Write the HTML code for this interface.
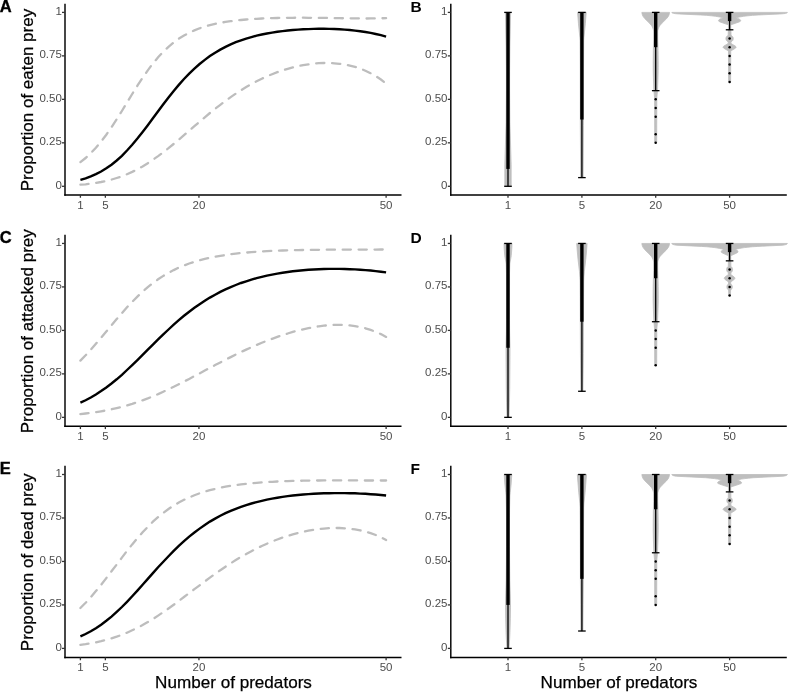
<!DOCTYPE html>
<html><head><meta charset="utf-8"><title>Figure</title>
<style>html,body{margin:0;padding:0;background:#fff;}body{width:788px;height:692px;overflow:hidden;}svg{display:block;}</style>
</head><body>
<svg width="788" height="692" viewBox="0 0 788 692" font-family="'Liberation Sans', sans-serif">
<rect width="788" height="692" fill="#fff"/>
<line x1="65.0" y1="3.70" x2="65.0" y2="195.65" stroke="#000" stroke-width="1.45"/>
<line x1="64.3" y1="194.95" x2="401.5" y2="194.95" stroke="#000" stroke-width="1.45"/>
<line x1="62.0" y1="186.30" x2="65.0" y2="186.30" stroke="#333" stroke-width="1.3"/>
<text x="61.8" y="188.70" text-anchor="end" font-size="11.5" fill="#4d4d4d">0</text>
<line x1="62.0" y1="142.83" x2="65.0" y2="142.83" stroke="#333" stroke-width="1.3"/>
<text x="61.8" y="145.23" text-anchor="end" font-size="11.5" fill="#4d4d4d">0.25</text>
<line x1="62.0" y1="99.35" x2="65.0" y2="99.35" stroke="#333" stroke-width="1.3"/>
<text x="61.8" y="101.75" text-anchor="end" font-size="11.5" fill="#4d4d4d">0.50</text>
<line x1="62.0" y1="55.88" x2="65.0" y2="55.88" stroke="#333" stroke-width="1.3"/>
<text x="61.8" y="58.27" text-anchor="end" font-size="11.5" fill="#4d4d4d">0.75</text>
<line x1="62.0" y1="12.40" x2="65.0" y2="12.40" stroke="#333" stroke-width="1.3"/>
<text x="61.8" y="14.80" text-anchor="end" font-size="11.5" fill="#4d4d4d">1</text>
<line x1="80.40" y1="194.95" x2="80.40" y2="197.75" stroke="#333" stroke-width="1.3"/>
<text x="80.40" y="208.80" text-anchor="middle" font-size="11.5" fill="#4d4d4d">1</text>
<line x1="105.36" y1="194.95" x2="105.36" y2="197.75" stroke="#333" stroke-width="1.3"/>
<text x="105.36" y="208.80" text-anchor="middle" font-size="11.5" fill="#4d4d4d">5</text>
<line x1="198.94" y1="194.95" x2="198.94" y2="197.75" stroke="#333" stroke-width="1.3"/>
<text x="198.94" y="208.80" text-anchor="middle" font-size="11.5" fill="#4d4d4d">20</text>
<line x1="386.11" y1="194.95" x2="386.11" y2="197.75" stroke="#333" stroke-width="1.3"/>
<text x="386.11" y="208.80" text-anchor="middle" font-size="11.5" fill="#4d4d4d">50</text>
<text transform="translate(33,100.03) rotate(-90)" text-anchor="middle" font-size="17" fill="#000" stroke="#000" stroke-width="0.25">Proportion of eaten prey</text>
<line x1="450.8" y1="3.70" x2="450.8" y2="195.65" stroke="#000" stroke-width="1.45"/>
<line x1="450.1" y1="194.95" x2="786.8" y2="194.95" stroke="#000" stroke-width="1.45"/>
<line x1="447.8" y1="186.30" x2="450.8" y2="186.30" stroke="#333" stroke-width="1.3"/>
<text x="447.5" y="188.80" text-anchor="end" font-size="11.5" fill="#4d4d4d">0</text>
<line x1="447.8" y1="142.83" x2="450.8" y2="142.83" stroke="#333" stroke-width="1.3"/>
<text x="447.5" y="145.33" text-anchor="end" font-size="11.5" fill="#4d4d4d">0.25</text>
<line x1="447.8" y1="99.35" x2="450.8" y2="99.35" stroke="#333" stroke-width="1.3"/>
<text x="447.5" y="101.85" text-anchor="end" font-size="11.5" fill="#4d4d4d">0.50</text>
<line x1="447.8" y1="55.88" x2="450.8" y2="55.88" stroke="#333" stroke-width="1.3"/>
<text x="447.5" y="58.38" text-anchor="end" font-size="11.5" fill="#4d4d4d">0.75</text>
<line x1="447.8" y1="12.40" x2="450.8" y2="12.40" stroke="#333" stroke-width="1.3"/>
<text x="447.5" y="14.90" text-anchor="end" font-size="11.5" fill="#4d4d4d">1</text>
<line x1="508.00" y1="194.95" x2="508.00" y2="197.75" stroke="#333" stroke-width="1.3"/>
<text x="508.00" y="208.80" text-anchor="middle" font-size="11.5" fill="#4d4d4d">1</text>
<line x1="581.90" y1="194.95" x2="581.90" y2="197.75" stroke="#333" stroke-width="1.3"/>
<text x="581.90" y="208.80" text-anchor="middle" font-size="11.5" fill="#4d4d4d">5</text>
<line x1="655.70" y1="194.95" x2="655.70" y2="197.75" stroke="#333" stroke-width="1.3"/>
<text x="655.70" y="208.80" text-anchor="middle" font-size="11.5" fill="#4d4d4d">20</text>
<line x1="729.60" y1="194.95" x2="729.60" y2="197.75" stroke="#333" stroke-width="1.3"/>
<text x="729.60" y="208.80" text-anchor="middle" font-size="11.5" fill="#4d4d4d">50</text>
<line x1="65.0" y1="234.75" x2="65.0" y2="427.00" stroke="#000" stroke-width="1.45"/>
<line x1="64.3" y1="426.30" x2="401.5" y2="426.30" stroke="#000" stroke-width="1.45"/>
<line x1="62.0" y1="417.35" x2="65.0" y2="417.35" stroke="#333" stroke-width="1.3"/>
<text x="61.8" y="419.75" text-anchor="end" font-size="11.5" fill="#4d4d4d">0</text>
<line x1="62.0" y1="373.88" x2="65.0" y2="373.88" stroke="#333" stroke-width="1.3"/>
<text x="61.8" y="376.27" text-anchor="end" font-size="11.5" fill="#4d4d4d">0.25</text>
<line x1="62.0" y1="330.40" x2="65.0" y2="330.40" stroke="#333" stroke-width="1.3"/>
<text x="61.8" y="332.80" text-anchor="end" font-size="11.5" fill="#4d4d4d">0.50</text>
<line x1="62.0" y1="286.93" x2="65.0" y2="286.93" stroke="#333" stroke-width="1.3"/>
<text x="61.8" y="289.32" text-anchor="end" font-size="11.5" fill="#4d4d4d">0.75</text>
<line x1="62.0" y1="243.45" x2="65.0" y2="243.45" stroke="#333" stroke-width="1.3"/>
<text x="61.8" y="245.85" text-anchor="end" font-size="11.5" fill="#4d4d4d">1</text>
<line x1="80.40" y1="426.30" x2="80.40" y2="429.10" stroke="#333" stroke-width="1.3"/>
<text x="80.40" y="439.85" text-anchor="middle" font-size="11.5" fill="#4d4d4d">1</text>
<line x1="105.36" y1="426.30" x2="105.36" y2="429.10" stroke="#333" stroke-width="1.3"/>
<text x="105.36" y="439.85" text-anchor="middle" font-size="11.5" fill="#4d4d4d">5</text>
<line x1="198.94" y1="426.30" x2="198.94" y2="429.10" stroke="#333" stroke-width="1.3"/>
<text x="198.94" y="439.85" text-anchor="middle" font-size="11.5" fill="#4d4d4d">20</text>
<line x1="386.11" y1="426.30" x2="386.11" y2="429.10" stroke="#333" stroke-width="1.3"/>
<text x="386.11" y="439.85" text-anchor="middle" font-size="11.5" fill="#4d4d4d">50</text>
<text transform="translate(33,331.23) rotate(-90)" text-anchor="middle" font-size="17" fill="#000" stroke="#000" stroke-width="0.25">Proportion of attacked prey</text>
<line x1="450.8" y1="234.75" x2="450.8" y2="427.00" stroke="#000" stroke-width="1.45"/>
<line x1="450.1" y1="426.30" x2="786.8" y2="426.30" stroke="#000" stroke-width="1.45"/>
<line x1="447.8" y1="417.35" x2="450.8" y2="417.35" stroke="#333" stroke-width="1.3"/>
<text x="447.5" y="419.85" text-anchor="end" font-size="11.5" fill="#4d4d4d">0</text>
<line x1="447.8" y1="373.88" x2="450.8" y2="373.88" stroke="#333" stroke-width="1.3"/>
<text x="447.5" y="376.38" text-anchor="end" font-size="11.5" fill="#4d4d4d">0.25</text>
<line x1="447.8" y1="330.40" x2="450.8" y2="330.40" stroke="#333" stroke-width="1.3"/>
<text x="447.5" y="332.90" text-anchor="end" font-size="11.5" fill="#4d4d4d">0.50</text>
<line x1="447.8" y1="286.93" x2="450.8" y2="286.93" stroke="#333" stroke-width="1.3"/>
<text x="447.5" y="289.43" text-anchor="end" font-size="11.5" fill="#4d4d4d">0.75</text>
<line x1="447.8" y1="243.45" x2="450.8" y2="243.45" stroke="#333" stroke-width="1.3"/>
<text x="447.5" y="245.95" text-anchor="end" font-size="11.5" fill="#4d4d4d">1</text>
<line x1="508.00" y1="426.30" x2="508.00" y2="429.10" stroke="#333" stroke-width="1.3"/>
<text x="508.00" y="439.85" text-anchor="middle" font-size="11.5" fill="#4d4d4d">1</text>
<line x1="581.90" y1="426.30" x2="581.90" y2="429.10" stroke="#333" stroke-width="1.3"/>
<text x="581.90" y="439.85" text-anchor="middle" font-size="11.5" fill="#4d4d4d">5</text>
<line x1="655.70" y1="426.30" x2="655.70" y2="429.10" stroke="#333" stroke-width="1.3"/>
<text x="655.70" y="439.85" text-anchor="middle" font-size="11.5" fill="#4d4d4d">20</text>
<line x1="729.60" y1="426.30" x2="729.60" y2="429.10" stroke="#333" stroke-width="1.3"/>
<text x="729.60" y="439.85" text-anchor="middle" font-size="11.5" fill="#4d4d4d">50</text>
<line x1="65.0" y1="465.81" x2="65.0" y2="658.15" stroke="#000" stroke-width="1.45"/>
<line x1="64.3" y1="657.45" x2="401.5" y2="657.45" stroke="#000" stroke-width="1.45"/>
<line x1="62.0" y1="648.40" x2="65.0" y2="648.40" stroke="#333" stroke-width="1.3"/>
<text x="61.8" y="650.80" text-anchor="end" font-size="11.5" fill="#4d4d4d">0</text>
<line x1="62.0" y1="604.93" x2="65.0" y2="604.93" stroke="#333" stroke-width="1.3"/>
<text x="61.8" y="607.33" text-anchor="end" font-size="11.5" fill="#4d4d4d">0.25</text>
<line x1="62.0" y1="561.45" x2="65.0" y2="561.45" stroke="#333" stroke-width="1.3"/>
<text x="61.8" y="563.85" text-anchor="end" font-size="11.5" fill="#4d4d4d">0.50</text>
<line x1="62.0" y1="517.98" x2="65.0" y2="517.98" stroke="#333" stroke-width="1.3"/>
<text x="61.8" y="520.38" text-anchor="end" font-size="11.5" fill="#4d4d4d">0.75</text>
<line x1="62.0" y1="474.50" x2="65.0" y2="474.50" stroke="#333" stroke-width="1.3"/>
<text x="61.8" y="476.90" text-anchor="end" font-size="11.5" fill="#4d4d4d">1</text>
<line x1="80.40" y1="657.45" x2="80.40" y2="660.25" stroke="#333" stroke-width="1.3"/>
<text x="80.40" y="670.90" text-anchor="middle" font-size="11.5" fill="#4d4d4d">1</text>
<line x1="105.36" y1="657.45" x2="105.36" y2="660.25" stroke="#333" stroke-width="1.3"/>
<text x="105.36" y="670.90" text-anchor="middle" font-size="11.5" fill="#4d4d4d">5</text>
<line x1="198.94" y1="657.45" x2="198.94" y2="660.25" stroke="#333" stroke-width="1.3"/>
<text x="198.94" y="670.90" text-anchor="middle" font-size="11.5" fill="#4d4d4d">20</text>
<line x1="386.11" y1="657.45" x2="386.11" y2="660.25" stroke="#333" stroke-width="1.3"/>
<text x="386.11" y="670.90" text-anchor="middle" font-size="11.5" fill="#4d4d4d">50</text>
<text transform="translate(33,562.33) rotate(-90)" text-anchor="middle" font-size="17" fill="#000" stroke="#000" stroke-width="0.25">Proportion of dead prey</text>
<line x1="450.8" y1="465.81" x2="450.8" y2="658.15" stroke="#000" stroke-width="1.45"/>
<line x1="450.1" y1="657.45" x2="786.8" y2="657.45" stroke="#000" stroke-width="1.45"/>
<line x1="447.8" y1="648.40" x2="450.8" y2="648.40" stroke="#333" stroke-width="1.3"/>
<text x="447.5" y="650.90" text-anchor="end" font-size="11.5" fill="#4d4d4d">0</text>
<line x1="447.8" y1="604.93" x2="450.8" y2="604.93" stroke="#333" stroke-width="1.3"/>
<text x="447.5" y="607.43" text-anchor="end" font-size="11.5" fill="#4d4d4d">0.25</text>
<line x1="447.8" y1="561.45" x2="450.8" y2="561.45" stroke="#333" stroke-width="1.3"/>
<text x="447.5" y="563.95" text-anchor="end" font-size="11.5" fill="#4d4d4d">0.50</text>
<line x1="447.8" y1="517.98" x2="450.8" y2="517.98" stroke="#333" stroke-width="1.3"/>
<text x="447.5" y="520.48" text-anchor="end" font-size="11.5" fill="#4d4d4d">0.75</text>
<line x1="447.8" y1="474.50" x2="450.8" y2="474.50" stroke="#333" stroke-width="1.3"/>
<text x="447.5" y="477.00" text-anchor="end" font-size="11.5" fill="#4d4d4d">1</text>
<line x1="508.00" y1="657.45" x2="508.00" y2="660.25" stroke="#333" stroke-width="1.3"/>
<text x="508.00" y="670.90" text-anchor="middle" font-size="11.5" fill="#4d4d4d">1</text>
<line x1="581.90" y1="657.45" x2="581.90" y2="660.25" stroke="#333" stroke-width="1.3"/>
<text x="581.90" y="670.90" text-anchor="middle" font-size="11.5" fill="#4d4d4d">5</text>
<line x1="655.70" y1="657.45" x2="655.70" y2="660.25" stroke="#333" stroke-width="1.3"/>
<text x="655.70" y="670.90" text-anchor="middle" font-size="11.5" fill="#4d4d4d">20</text>
<line x1="729.60" y1="657.45" x2="729.60" y2="660.25" stroke="#333" stroke-width="1.3"/>
<text x="729.60" y="670.90" text-anchor="middle" font-size="11.5" fill="#4d4d4d">50</text>
<path d="M80.4,162.1 L85.6,158.0 L90.8,153.2 L95.9,147.7 L101.1,141.5 L106.3,134.7 L111.5,127.2 L116.7,119.3 L121.9,111.0 L127.0,102.5 L132.2,94.0 L137.4,85.7 L142.6,77.8 L147.8,70.3 L152.9,63.5 L158.1,57.3 L163.3,51.7 L168.5,46.8 L173.7,42.5 L178.8,38.7 L184.0,35.5 L189.2,32.7 L194.4,30.4 L199.6,28.3 L204.8,26.6 L209.9,25.1 L215.1,23.9 L220.3,22.8 L225.5,21.9 L230.7,21.2 L235.8,20.5 L241.0,20.0 L246.2,19.5 L251.4,19.1 L256.6,18.8 L261.8,18.5 L266.9,18.3 L272.1,18.1 L277.3,18.0 L282.5,17.9 L287.7,17.8 L292.8,17.8 L298.0,17.7 L303.2,17.7 L308.4,17.8 L313.6,17.8 L318.8,17.9 L323.9,17.9 L329.1,18.0 L334.3,18.1 L339.5,18.2 L344.7,18.3 L349.8,18.3 L355.0,18.4 L360.2,18.4 L365.4,18.5 L370.6,18.4 L375.7,18.4 L380.9,18.3 L386.1,18.2" fill="none" stroke="#bdbdbd" stroke-width="2.3" stroke-dasharray="8.2 7.72" stroke-linecap="round"/>
<path d="M80.4,184.7 L85.6,184.3 L90.8,183.6 L95.9,182.9 L101.1,182.0 L106.3,180.9 L111.5,179.6 L116.7,178.0 L121.9,176.3 L127.0,174.2 L132.2,171.9 L137.4,169.3 L142.6,166.4 L147.8,163.2 L152.9,159.8 L158.1,156.1 L163.3,152.2 L168.5,148.2 L173.7,143.9 L178.8,139.6 L184.0,135.1 L189.2,130.7 L194.4,126.2 L199.6,121.7 L204.8,117.3 L209.9,113.0 L215.1,108.8 L220.3,104.8 L225.5,100.9 L230.7,97.1 L235.8,93.6 L241.0,90.2 L246.2,87.0 L251.4,84.1 L256.6,81.3 L261.8,78.7 L266.9,76.3 L272.1,74.2 L277.3,72.2 L282.5,70.4 L287.7,68.8 L292.8,67.4 L298.0,66.2 L303.2,65.1 L308.4,64.3 L313.6,63.7 L318.8,63.2 L323.9,63.0 L329.1,63.0 L334.3,63.3 L339.5,63.8 L344.7,64.5 L349.8,65.6 L355.0,66.9 L360.2,68.6 L365.4,70.7 L370.6,73.2 L375.7,76.1 L380.9,79.5 L386.1,83.5" fill="none" stroke="#bdbdbd" stroke-width="2.3" stroke-dasharray="8.2 7.72" stroke-linecap="round"/>
<path d="M80.4,179.8 L85.6,178.3 L90.8,176.4 L95.9,174.1 L101.1,171.5 L106.3,168.3 L111.5,164.7 L116.7,160.5 L121.9,155.8 L127.0,150.5 L132.2,144.8 L137.4,138.6 L142.6,132.0 L147.8,125.2 L152.9,118.3 L158.1,111.3 L163.3,104.3 L168.5,97.6 L173.7,91.0 L178.8,84.9 L184.0,79.0 L189.2,73.6 L194.4,68.6 L199.6,64.0 L204.8,59.9 L209.9,56.1 L215.1,52.7 L220.3,49.6 L225.5,46.9 L230.7,44.4 L235.8,42.2 L241.0,40.3 L246.2,38.6 L251.4,37.1 L256.6,35.7 L261.8,34.5 L266.9,33.5 L272.1,32.6 L277.3,31.8 L282.5,31.1 L287.7,30.5 L292.8,30.0 L298.0,29.6 L303.2,29.3 L308.4,29.1 L313.6,28.9 L318.8,28.8 L323.9,28.8 L329.1,28.9 L334.3,29.0 L339.5,29.3 L344.7,29.6 L349.8,30.0 L355.0,30.6 L360.2,31.2 L365.4,32.0 L370.6,32.9 L375.7,34.0 L380.9,35.2 L386.1,36.7" fill="none" stroke="#000" stroke-width="2.4" stroke-linecap="butt"/>
<path d="M80.4,360.6 L85.6,355.3 L90.8,349.7 L95.9,343.8 L101.1,337.7 L106.3,331.5 L111.5,325.3 L116.7,319.1 L121.9,313.1 L127.0,307.3 L132.2,301.8 L137.4,296.6 L142.6,291.7 L147.8,287.2 L152.9,283.1 L158.1,279.3 L163.3,275.9 L168.5,272.8 L173.7,270.1 L178.8,267.6 L184.0,265.5 L189.2,263.5 L194.4,261.8 L199.6,260.3 L204.8,258.9 L209.9,257.7 L215.1,256.7 L220.3,255.8 L225.5,255.0 L230.7,254.2 L235.8,253.6 L241.0,253.0 L246.2,252.6 L251.4,252.1 L256.6,251.7 L261.8,251.4 L266.9,251.1 L272.1,250.9 L277.3,250.7 L282.5,250.5 L287.7,250.3 L292.8,250.2 L298.0,250.1 L303.2,250.0 L308.4,249.9 L313.6,249.8 L318.8,249.8 L323.9,249.7 L329.1,249.7 L334.3,249.7 L339.5,249.7 L344.7,249.7 L349.8,249.6 L355.0,249.6 L360.2,249.6 L365.4,249.6 L370.6,249.6 L375.7,249.6 L380.9,249.5 L386.1,249.5" fill="none" stroke="#bdbdbd" stroke-width="2.3" stroke-dasharray="8.2 7.72" stroke-linecap="round"/>
<path d="M80.4,414.1 L85.6,413.5 L90.8,412.9 L95.9,412.1 L101.1,411.3 L106.3,410.4 L111.5,409.3 L116.7,408.1 L121.9,406.8 L127.0,405.4 L132.2,403.9 L137.4,402.2 L142.6,400.3 L147.8,398.4 L152.9,396.3 L158.1,394.1 L163.3,391.7 L168.5,389.3 L173.7,386.8 L178.8,384.2 L184.0,381.6 L189.2,378.9 L194.4,376.1 L199.6,373.4 L204.8,370.6 L209.9,367.8 L215.1,365.1 L220.3,362.4 L225.5,359.7 L230.7,357.1 L235.8,354.5 L241.0,352.0 L246.2,349.6 L251.4,347.3 L256.6,345.0 L261.8,342.8 L266.9,340.7 L272.1,338.8 L277.3,336.9 L282.5,335.1 L287.7,333.5 L292.8,331.9 L298.0,330.5 L303.2,329.3 L308.4,328.1 L313.6,327.2 L318.8,326.3 L323.9,325.7 L329.1,325.2 L334.3,324.9 L339.5,324.9 L344.7,325.0 L349.8,325.4 L355.0,326.1 L360.2,327.0 L365.4,328.3 L370.6,329.9 L375.7,331.8 L380.9,334.1 L386.1,336.9" fill="none" stroke="#bdbdbd" stroke-width="2.3" stroke-dasharray="8.2 7.72" stroke-linecap="round"/>
<path d="M80.4,402.7 L85.6,400.3 L90.8,397.5 L95.9,394.5 L101.1,391.1 L106.3,387.5 L111.5,383.5 L116.7,379.3 L121.9,374.8 L127.0,370.0 L132.2,365.1 L137.4,360.1 L142.6,354.9 L147.8,349.7 L152.9,344.6 L158.1,339.4 L163.3,334.4 L168.5,329.5 L173.7,324.7 L178.8,320.2 L184.0,315.8 L189.2,311.7 L194.4,307.8 L199.6,304.2 L204.8,300.8 L209.9,297.6 L215.1,294.7 L220.3,291.9 L225.5,289.4 L230.7,287.1 L235.8,285.0 L241.0,283.0 L246.2,281.3 L251.4,279.6 L256.6,278.2 L261.8,276.9 L266.9,275.7 L272.1,274.6 L277.3,273.6 L282.5,272.7 L287.7,272.0 L292.8,271.3 L298.0,270.7 L303.2,270.2 L308.4,269.8 L313.6,269.5 L318.8,269.2 L323.9,269.0 L329.1,268.9 L334.3,268.9 L339.5,268.9 L344.7,269.0 L349.8,269.2 L355.0,269.4 L360.2,269.7 L365.4,270.1 L370.6,270.5 L375.7,271.1 L380.9,271.7 L386.1,272.4" fill="none" stroke="#000" stroke-width="2.4" stroke-linecap="butt"/>
<path d="M80.4,608.0 L85.6,602.8 L90.8,597.2 L95.9,591.1 L101.1,584.8 L106.3,578.1 L111.5,571.3 L116.7,564.5 L121.9,557.6 L127.0,550.9 L132.2,544.4 L137.4,538.2 L142.6,532.3 L147.8,526.8 L152.9,521.7 L158.1,517.1 L163.3,512.9 L168.5,509.0 L173.7,505.6 L178.8,502.5 L184.0,499.8 L189.2,497.4 L194.4,495.2 L199.6,493.3 L204.8,491.6 L209.9,490.2 L215.1,488.9 L220.3,487.7 L225.5,486.7 L230.7,485.8 L235.8,485.1 L241.0,484.4 L246.2,483.8 L251.4,483.3 L256.6,482.8 L261.8,482.4 L266.9,482.1 L272.1,481.8 L277.3,481.5 L282.5,481.3 L287.7,481.1 L292.8,480.9 L298.0,480.8 L303.2,480.7 L308.4,480.6 L313.6,480.5 L318.8,480.5 L323.9,480.4 L329.1,480.4 L334.3,480.4 L339.5,480.4 L344.7,480.4 L349.8,480.4 L355.0,480.4 L360.2,480.4 L365.4,480.5 L370.6,480.5 L375.7,480.5 L380.9,480.5 L386.1,480.5" fill="none" stroke="#bdbdbd" stroke-width="2.3" stroke-dasharray="8.2 7.72" stroke-linecap="round"/>
<path d="M80.4,644.9 L85.6,644.2 L90.8,643.3 L95.9,642.3 L101.1,641.2 L106.3,639.9 L111.5,638.4 L116.7,636.7 L121.9,634.8 L127.0,632.7 L132.2,630.3 L137.4,627.8 L142.6,625.1 L147.8,622.1 L152.9,619.0 L158.1,615.6 L163.3,612.1 L168.5,608.5 L173.7,604.8 L178.8,600.9 L184.0,597.0 L189.2,593.1 L194.4,589.2 L199.6,585.3 L204.8,581.4 L209.9,577.6 L215.1,573.9 L220.3,570.2 L225.5,566.7 L230.7,563.3 L235.8,560.0 L241.0,556.9 L246.2,554.0 L251.4,551.2 L256.6,548.5 L261.8,546.0 L266.9,543.7 L272.1,541.5 L277.3,539.5 L282.5,537.6 L287.7,535.9 L292.8,534.4 L298.0,533.0 L303.2,531.8 L308.4,530.7 L313.6,529.8 L318.8,529.1 L323.9,528.6 L329.1,528.2 L334.3,528.0 L339.5,528.0 L344.7,528.3 L349.8,528.7 L355.0,529.4 L360.2,530.4 L365.4,531.6 L370.6,533.2 L375.7,535.0 L380.9,537.3 L386.1,540.0" fill="none" stroke="#bdbdbd" stroke-width="2.3" stroke-dasharray="8.2 7.72" stroke-linecap="round"/>
<path d="M80.4,636.4 L85.6,634.0 L90.8,631.3 L95.9,628.2 L101.1,624.7 L106.3,620.8 L111.5,616.6 L116.7,611.9 L121.9,607.0 L127.0,601.8 L132.2,596.3 L137.4,590.6 L142.6,584.8 L147.8,578.9 L152.9,573.1 L158.1,567.3 L163.3,561.7 L168.5,556.2 L173.7,550.9 L178.8,545.9 L184.0,541.1 L189.2,536.6 L194.4,532.5 L199.6,528.6 L204.8,525.0 L209.9,521.6 L215.1,518.6 L220.3,515.8 L225.5,513.2 L230.7,510.9 L235.8,508.8 L241.0,506.8 L246.2,505.1 L251.4,503.5 L256.6,502.1 L261.8,500.8 L266.9,499.6 L272.1,498.6 L277.3,497.7 L282.5,496.9 L287.7,496.1 L292.8,495.5 L298.0,495.0 L303.2,494.5 L308.4,494.1 L313.6,493.8 L318.8,493.5 L323.9,493.3 L329.1,493.2 L334.3,493.1 L339.5,493.1 L344.7,493.1 L349.8,493.2 L355.0,493.3 L360.2,493.6 L365.4,493.8 L370.6,494.2 L375.7,494.5 L380.9,495.0 L386.1,495.5" fill="none" stroke="#000" stroke-width="2.4" stroke-linecap="butt"/>
<path d="M504.80,186.30 L504.84,164.78 L506.11,122.32 L506.39,90.34 L506.36,71.72 L506.09,46.40 L505.40,12.40 L510.60,12.40 L509.91,46.40 L509.64,71.72 L509.61,90.34 L509.89,122.32 L511.16,164.78 L511.20,186.30Z" fill="#bebebe" stroke="#bebebe" stroke-width="0.8" stroke-linejoin="round"/>
<path d="M580.70,177.61 L580.32,125.67 L580.28,68.21 L580.10,40.75 L579.90,37.70 L578.45,23.45 L577.60,12.40 L586.20,12.40 L585.35,23.45 L583.90,37.70 L583.70,40.75 L583.52,68.21 L583.48,125.67 L583.10,177.61Z" fill="#bebebe" stroke="#bebebe" stroke-width="0.8" stroke-linejoin="round"/>
<path d="M654.70,142.83 L654.60,99.20 L654.49,97.02 L653.89,90.48 L653.41,77.83 L653.21,67.80 L653.22,60.22 L653.34,50.79 L653.42,46.22 L653.70,39.18 L653.68,31.01 L653.46,29.96 L652.84,28.05 L652.27,26.79 L651.62,25.70 L649.33,23.09 L644.99,18.83 L643.17,16.57 L642.80,15.89 L642.18,14.23 L641.94,13.27 L641.85,12.40 L669.55,12.40 L669.46,13.27 L669.22,14.23 L668.60,15.89 L668.23,16.57 L666.41,18.83 L662.07,23.09 L659.78,25.70 L659.13,26.79 L658.56,28.05 L657.94,29.96 L657.72,31.01 L657.70,39.18 L657.98,46.22 L658.06,50.79 L658.18,60.22 L658.19,67.80 L657.99,77.83 L657.51,90.48 L656.91,97.02 L656.80,99.20 L656.70,142.83Z" fill="#bebebe" stroke="#bebebe" stroke-width="0.8" stroke-linejoin="round"/>
<path d="M728.60,81.96 L728.46,51.25 L727.30,50.31 L723.81,48.23 L723.28,47.70 L723.10,47.18 L723.28,46.66 L723.92,46.05 L727.16,44.14 L728.30,43.27 L728.26,41.88 L727.22,41.27 L726.53,40.55 L726.06,39.62 L725.90,38.57 L726.08,37.53 L726.53,36.66 L727.20,35.96 L728.20,35.35 L728.21,32.87 L728.40,29.85 L728.50,24.83 L725.32,23.80 L720.09,21.94 L718.80,21.27 L718.50,20.92 L718.57,20.49 L718.77,19.96 L719.10,19.62 L719.78,19.15 L721.38,18.40 L723.50,17.70 L722.52,17.62 L719.82,17.01 L715.55,16.31 L711.32,15.79 L706.73,15.36 L700.41,14.96 L679.28,13.97 L675.60,13.70 L673.44,13.36 L672.43,13.10 L672.05,12.87 L671.80,12.40 L787.40,12.40 L787.15,12.87 L786.77,13.10 L785.76,13.36 L783.60,13.70 L779.92,13.97 L758.79,14.96 L752.47,15.36 L747.88,15.79 L743.65,16.31 L739.38,17.01 L736.68,17.62 L735.70,17.70 L737.82,18.40 L739.42,19.15 L740.10,19.62 L740.43,19.96 L740.63,20.49 L740.70,20.92 L740.40,21.27 L739.11,21.94 L733.88,23.80 L730.70,24.83 L730.80,29.85 L730.99,32.87 L731.00,35.35 L732.00,35.96 L732.67,36.66 L733.12,37.53 L733.30,38.57 L733.14,39.62 L732.67,40.55 L731.98,41.27 L730.94,41.88 L730.90,43.27 L732.04,44.14 L735.28,46.05 L735.92,46.66 L736.10,47.18 L735.92,47.70 L735.39,48.23 L731.90,50.31 L730.74,51.25 L730.60,81.96Z" fill="#bebebe" stroke="#bebebe" stroke-width="0.8" stroke-linejoin="round"/>
<line x1="508.0" y1="186.30" x2="508.0" y2="12.40" stroke="#000" stroke-width="1.3"/>
<line x1="504.20" y1="186.30" x2="511.80" y2="186.30" stroke="#000" stroke-width="1.3"/>
<line x1="504.20" y1="12.40" x2="511.80" y2="12.40" stroke="#000" stroke-width="1.3"/>
<rect x="506.30" y="12.40" width="3.4" height="156.51" fill="#000"/>
<line x1="581.9" y1="177.61" x2="581.9" y2="12.40" stroke="#000" stroke-width="1.3"/>
<line x1="578.10" y1="177.61" x2="585.70" y2="177.61" stroke="#000" stroke-width="1.3"/>
<line x1="578.10" y1="12.40" x2="585.70" y2="12.40" stroke="#000" stroke-width="1.3"/>
<rect x="580.20" y="12.40" width="3.4" height="107.12" fill="#000"/>
<line x1="655.7" y1="90.66" x2="655.7" y2="12.40" stroke="#000" stroke-width="1.3"/>
<line x1="651.90" y1="90.66" x2="659.50" y2="90.66" stroke="#000" stroke-width="1.3"/>
<line x1="651.90" y1="12.40" x2="659.50" y2="12.40" stroke="#000" stroke-width="1.3"/>
<rect x="654.00" y="12.40" width="3.4" height="34.78" fill="#000"/>
<circle cx="655.7" cy="99.35" r="1.25" fill="#000"/>
<circle cx="655.7" cy="108.05" r="1.25" fill="#000"/>
<circle cx="655.7" cy="116.74" r="1.25" fill="#000"/>
<circle cx="655.7" cy="134.13" r="1.25" fill="#000"/>
<circle cx="655.7" cy="142.83" r="1.25" fill="#000"/>
<line x1="729.6" y1="29.79" x2="729.6" y2="12.40" stroke="#000" stroke-width="1.3"/>
<line x1="725.80" y1="29.79" x2="733.40" y2="29.79" stroke="#000" stroke-width="1.3"/>
<line x1="725.80" y1="12.40" x2="733.40" y2="12.40" stroke="#000" stroke-width="1.3"/>
<rect x="727.90" y="12.40" width="3.4" height="8.70" fill="#000"/>
<circle cx="729.6" cy="38.49" r="1.25" fill="#000"/>
<circle cx="729.6" cy="47.18" r="1.25" fill="#000"/>
<circle cx="729.6" cy="55.88" r="1.25" fill="#000"/>
<circle cx="729.6" cy="64.57" r="1.25" fill="#000"/>
<circle cx="729.6" cy="73.27" r="1.25" fill="#000"/>
<circle cx="729.6" cy="81.96" r="1.25" fill="#000"/>
<path d="M507.00,417.35 L506.56,402.23 L506.29,389.43 L506.02,356.86 L506.01,345.81 L506.38,331.85 L506.48,319.64 L506.46,273.36 L506.16,264.06 L505.89,261.97 L505.02,257.45 L504.73,255.45 L504.19,248.58 L504.00,243.45 L512.00,243.45 L511.81,248.58 L511.27,255.45 L510.98,257.45 L510.11,261.97 L509.84,264.06 L509.54,273.36 L509.52,319.64 L509.62,331.85 L509.99,345.81 L509.98,356.86 L509.71,389.43 L509.44,402.23 L509.00,417.35Z" fill="#bebebe" stroke="#bebebe" stroke-width="0.8" stroke-linejoin="round"/>
<path d="M580.90,391.27 L580.44,353.69 L580.21,296.35 L580.08,281.01 L579.90,277.27 L579.49,271.71 L578.02,259.27 L577.26,250.93 L576.70,243.45 L587.10,243.45 L586.54,250.93 L585.78,259.27 L584.31,271.71 L583.90,277.27 L583.72,281.01 L583.59,296.35 L583.36,353.69 L582.90,391.27Z" fill="#bebebe" stroke="#bebebe" stroke-width="0.8" stroke-linejoin="round"/>
<path d="M654.70,365.18 L654.60,330.17 L654.46,327.72 L653.97,322.84 L653.82,319.99 L653.33,308.18 L653.12,298.82 L653.20,286.61 L653.41,277.71 L653.69,270.49 L653.68,262.06 L653.46,261.01 L652.84,259.10 L652.25,257.80 L651.62,256.75 L649.33,254.14 L644.99,249.88 L643.17,247.62 L642.80,246.93 L642.18,245.28 L641.94,244.32 L641.85,243.45 L669.55,243.45 L669.46,244.32 L669.22,245.28 L668.60,246.93 L668.23,247.62 L666.41,249.88 L662.07,254.14 L659.78,256.75 L659.15,257.80 L658.56,259.10 L657.94,261.01 L657.72,262.06 L657.71,270.49 L657.99,277.71 L658.20,286.61 L658.28,298.82 L658.07,308.18 L657.58,319.99 L657.43,322.84 L656.94,327.72 L656.80,330.17 L656.70,365.18Z" fill="#bebebe" stroke="#bebebe" stroke-width="0.8" stroke-linejoin="round"/>
<path d="M728.80,295.62 L728.58,290.04 L727.86,289.45 L727.35,288.75 L727.03,287.94 L726.90,287.01 L727.00,286.06 L727.30,285.19 L727.81,284.45 L728.46,283.93 L728.44,282.18 L727.57,281.36 L724.96,279.39 L724.44,278.75 L724.30,278.23 L724.44,277.71 L724.92,277.10 L727.46,275.19 L728.33,274.40 L728.29,272.67 L727.62,272.14 L727.05,271.37 L726.72,270.49 L726.60,269.54 L726.72,268.58 L727.05,267.70 L727.62,266.93 L728.29,266.40 L728.50,255.80 L722.45,253.01 L721.91,252.70 L721.26,252.15 L721.20,251.88 L721.29,251.36 L721.40,251.01 L721.66,250.67 L722.57,249.91 L724.11,249.10 L722.58,249.03 L719.82,248.41 L714.92,247.62 L711.32,247.19 L706.73,246.75 L701.37,246.41 L676.34,245.19 L674.33,244.85 L672.83,244.41 L672.19,244.06 L671.89,243.71 L671.80,243.45 L787.40,243.45 L787.31,243.71 L787.01,244.06 L786.37,244.41 L784.87,244.85 L782.86,245.19 L757.83,246.41 L752.47,246.75 L747.88,247.19 L744.28,247.62 L739.38,248.41 L736.62,249.03 L735.09,249.10 L736.63,249.91 L737.54,250.67 L737.80,251.01 L737.91,251.36 L738.00,251.88 L737.94,252.15 L737.29,252.70 L736.75,253.01 L730.70,255.80 L730.91,266.40 L731.58,266.93 L732.15,267.70 L732.48,268.58 L732.60,269.54 L732.48,270.49 L732.15,271.37 L731.58,272.14 L730.91,272.67 L730.87,274.40 L731.74,275.19 L734.28,277.10 L734.76,277.71 L734.90,278.23 L734.76,278.75 L734.24,279.39 L731.63,281.36 L730.76,282.18 L730.74,283.93 L731.39,284.45 L731.90,285.19 L732.20,286.06 L732.30,287.01 L732.17,287.94 L731.85,288.75 L731.34,289.45 L730.62,290.04 L730.40,295.62Z" fill="#bebebe" stroke="#bebebe" stroke-width="0.8" stroke-linejoin="round"/>
<line x1="508.0" y1="417.35" x2="508.0" y2="243.45" stroke="#000" stroke-width="1.3"/>
<line x1="504.20" y1="417.35" x2="511.80" y2="417.35" stroke="#000" stroke-width="1.3"/>
<line x1="504.20" y1="243.45" x2="511.80" y2="243.45" stroke="#000" stroke-width="1.3"/>
<rect x="506.30" y="243.45" width="3.4" height="104.34" fill="#000"/>
<line x1="581.9" y1="391.27" x2="581.9" y2="243.45" stroke="#000" stroke-width="1.3"/>
<line x1="578.10" y1="391.27" x2="585.70" y2="391.27" stroke="#000" stroke-width="1.3"/>
<line x1="578.10" y1="243.45" x2="585.70" y2="243.45" stroke="#000" stroke-width="1.3"/>
<rect x="580.20" y="243.45" width="3.4" height="78.26" fill="#000"/>
<line x1="655.7" y1="321.71" x2="655.7" y2="243.45" stroke="#000" stroke-width="1.3"/>
<line x1="651.90" y1="321.71" x2="659.50" y2="321.71" stroke="#000" stroke-width="1.3"/>
<line x1="651.90" y1="243.45" x2="659.50" y2="243.45" stroke="#000" stroke-width="1.3"/>
<rect x="654.00" y="243.45" width="3.4" height="34.78" fill="#000"/>
<circle cx="655.7" cy="330.40" r="1.25" fill="#000"/>
<circle cx="655.7" cy="339.10" r="1.25" fill="#000"/>
<circle cx="655.7" cy="347.79" r="1.25" fill="#000"/>
<circle cx="655.7" cy="365.18" r="1.25" fill="#000"/>
<line x1="729.6" y1="260.84" x2="729.6" y2="243.45" stroke="#000" stroke-width="1.3"/>
<line x1="725.80" y1="260.84" x2="733.40" y2="260.84" stroke="#000" stroke-width="1.3"/>
<line x1="725.80" y1="243.45" x2="733.40" y2="243.45" stroke="#000" stroke-width="1.3"/>
<rect x="727.90" y="243.45" width="3.4" height="8.70" fill="#000"/>
<circle cx="729.6" cy="269.54" r="1.25" fill="#000"/>
<circle cx="729.6" cy="278.23" r="1.25" fill="#000"/>
<circle cx="729.6" cy="286.93" r="1.25" fill="#000"/>
<circle cx="729.6" cy="295.62" r="1.25" fill="#000"/>
<path d="M507.00,648.40 L506.40,639.68 L506.06,632.70 L505.66,618.16 L505.50,607.11 L505.58,598.96 L506.18,580.35 L506.42,560.58 L506.50,546.62 L506.50,517.98 L506.42,507.98 L506.09,495.89 L505.81,492.67 L504.87,484.06 L504.20,474.50 L511.80,474.50 L511.13,484.06 L510.19,492.67 L509.91,495.89 L509.58,507.98 L509.50,517.98 L509.50,546.62 L509.58,560.58 L509.82,580.35 L510.42,598.96 L510.50,607.11 L510.34,618.16 L509.94,632.70 L509.60,639.68 L509.00,648.40Z" fill="#bebebe" stroke="#bebebe" stroke-width="0.8" stroke-linejoin="round"/>
<path d="M580.90,631.01 L580.69,604.31 L580.41,580.24 L580.24,526.41 L580.09,507.45 L579.84,503.02 L578.75,492.50 L577.30,474.50 L586.50,474.50 L585.05,492.50 L583.96,503.02 L583.71,507.45 L583.56,526.41 L583.39,580.24 L583.11,604.31 L582.90,631.01Z" fill="#bebebe" stroke="#bebebe" stroke-width="0.8" stroke-linejoin="round"/>
<path d="M654.70,604.93 L654.60,561.30 L654.49,559.12 L653.89,552.58 L653.41,539.93 L653.21,529.90 L653.22,522.32 L653.34,512.89 L653.42,508.32 L653.70,501.28 L653.68,493.11 L653.46,492.06 L652.84,490.15 L652.27,488.89 L651.62,487.80 L649.33,485.19 L644.99,480.93 L643.17,478.67 L642.80,477.99 L642.18,476.33 L641.94,475.37 L641.85,474.50 L669.55,474.50 L669.46,475.37 L669.22,476.33 L668.60,477.99 L668.23,478.67 L666.41,480.93 L662.07,485.19 L659.78,487.80 L659.13,488.89 L658.56,490.15 L657.94,492.06 L657.72,493.11 L657.70,501.28 L657.98,508.32 L658.06,512.89 L658.18,522.32 L658.19,529.90 L657.99,539.93 L657.51,552.58 L656.91,559.12 L656.80,561.30 L656.70,604.93Z" fill="#bebebe" stroke="#bebebe" stroke-width="0.8" stroke-linejoin="round"/>
<path d="M728.60,544.06 L728.45,513.35 L727.30,512.41 L723.81,510.33 L723.28,509.80 L723.10,509.28 L723.28,508.76 L723.81,508.23 L727.30,506.15 L728.01,505.63 L728.34,505.28 L728.32,503.54 L727.71,503.02 L727.22,502.32 L726.91,501.49 L726.80,500.56 L726.92,499.63 L727.22,498.85 L727.64,498.23 L728.30,497.63 L728.50,486.93 L725.22,485.98 L719.39,484.06 L718.56,483.72 L717.69,483.20 L717.61,482.88 L717.80,482.24 L717.99,481.94 L718.37,481.63 L719.60,480.93 L722.21,479.98 L721.12,479.72 L717.82,479.11 L714.27,478.59 L710.49,478.15 L705.66,477.72 L676.34,476.24 L674.33,475.90 L672.83,475.46 L672.19,475.11 L671.89,474.76 L671.80,474.50 L787.40,474.50 L787.31,474.76 L787.01,475.11 L786.37,475.46 L784.87,475.90 L782.86,476.24 L753.54,477.72 L748.71,478.15 L744.93,478.59 L741.38,479.11 L738.08,479.72 L736.99,479.98 L739.60,480.93 L740.83,481.63 L741.21,481.94 L741.40,482.24 L741.59,482.88 L741.51,483.20 L740.64,483.72 L739.81,484.06 L733.98,485.98 L730.70,486.93 L730.90,497.63 L731.56,498.23 L731.98,498.85 L732.28,499.63 L732.40,500.56 L732.29,501.49 L731.98,502.32 L731.49,503.02 L730.88,503.54 L730.86,505.28 L731.19,505.63 L731.90,506.15 L735.39,508.23 L735.92,508.76 L736.10,509.28 L735.92,509.80 L735.39,510.33 L731.90,512.41 L730.75,513.35 L730.60,544.06Z" fill="#bebebe" stroke="#bebebe" stroke-width="0.8" stroke-linejoin="round"/>
<line x1="508.0" y1="648.40" x2="508.0" y2="474.50" stroke="#000" stroke-width="1.3"/>
<line x1="504.20" y1="648.40" x2="511.80" y2="648.40" stroke="#000" stroke-width="1.3"/>
<line x1="504.20" y1="474.50" x2="511.80" y2="474.50" stroke="#000" stroke-width="1.3"/>
<rect x="506.30" y="474.50" width="3.4" height="130.42" fill="#000"/>
<line x1="581.9" y1="631.01" x2="581.9" y2="474.50" stroke="#000" stroke-width="1.3"/>
<line x1="578.10" y1="631.01" x2="585.70" y2="631.01" stroke="#000" stroke-width="1.3"/>
<line x1="578.10" y1="474.50" x2="585.70" y2="474.50" stroke="#000" stroke-width="1.3"/>
<rect x="580.20" y="474.50" width="3.4" height="104.34" fill="#000"/>
<line x1="655.7" y1="552.76" x2="655.7" y2="474.50" stroke="#000" stroke-width="1.3"/>
<line x1="651.90" y1="552.76" x2="659.50" y2="552.76" stroke="#000" stroke-width="1.3"/>
<line x1="651.90" y1="474.50" x2="659.50" y2="474.50" stroke="#000" stroke-width="1.3"/>
<rect x="654.00" y="474.50" width="3.4" height="34.78" fill="#000"/>
<circle cx="655.7" cy="561.45" r="1.25" fill="#000"/>
<circle cx="655.7" cy="570.15" r="1.25" fill="#000"/>
<circle cx="655.7" cy="578.84" r="1.25" fill="#000"/>
<circle cx="655.7" cy="596.23" r="1.25" fill="#000"/>
<circle cx="655.7" cy="604.93" r="1.25" fill="#000"/>
<line x1="729.6" y1="491.89" x2="729.6" y2="474.50" stroke="#000" stroke-width="1.3"/>
<line x1="725.80" y1="491.89" x2="733.40" y2="491.89" stroke="#000" stroke-width="1.3"/>
<line x1="725.80" y1="474.50" x2="733.40" y2="474.50" stroke="#000" stroke-width="1.3"/>
<rect x="727.90" y="474.50" width="3.4" height="8.69" fill="#000"/>
<circle cx="729.6" cy="500.59" r="1.25" fill="#000"/>
<circle cx="729.6" cy="509.28" r="1.25" fill="#000"/>
<circle cx="729.6" cy="517.98" r="1.25" fill="#000"/>
<circle cx="729.6" cy="526.67" r="1.25" fill="#000"/>
<circle cx="729.6" cy="535.37" r="1.25" fill="#000"/>
<circle cx="729.6" cy="544.06" r="1.25" fill="#000"/>
<text x="-0.3" y="11.6" font-size="16.5" font-weight="bold" fill="#000" stroke="#000" stroke-width="0.35">A</text>
<text x="410.5" y="11.7" font-size="15.5" font-weight="bold" fill="#000">B</text>
<text x="-0.3" y="242.8" font-size="16.5" font-weight="bold" fill="#000" stroke="#000" stroke-width="0.35">C</text>
<text x="410.5" y="242.9" font-size="15.5" font-weight="bold" fill="#000">D</text>
<text x="-0.3" y="474.0" font-size="16.5" font-weight="bold" fill="#000" stroke="#000" stroke-width="0.35">E</text>
<text x="410.5" y="474.1" font-size="15.5" font-weight="bold" fill="#000">F</text>
<text x="233.5" y="687.7" text-anchor="middle" font-size="17.1" fill="#000" stroke="#000" stroke-width="0.25">Number of predators</text>
<text x="619" y="687.7" text-anchor="middle" font-size="17.1" fill="#000" stroke="#000" stroke-width="0.25">Number of predators</text>
</svg>
</body></html>
